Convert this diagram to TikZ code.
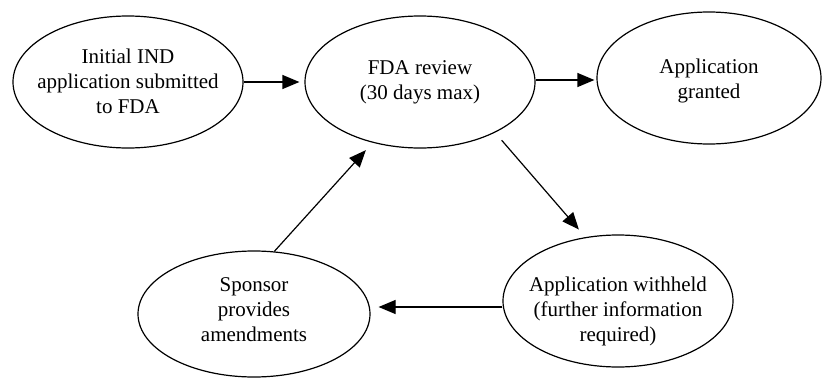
\documentclass[tikz,border=0pt]{standalone}
\usepackage{fontspec}
\setmainfont{Liberation Serif}
\usetikzlibrary{shapes.geometric,arrows.meta}
\begin{document}
\begin{tikzpicture}[x=1pt,y=1pt,
  oval/.style={draw=black,ellipse,line width=1.2pt,inner sep=0pt},
  txt/.style={align=center,inner sep=0pt,font=\fontsize{21}{25}\selectfont},
  conn/.style={line width=1.2pt,-{Triangle[length=17pt,width=14pt]}}]
\useasboundingbox (0,0) rectangle (823,-378);
\node[oval,minimum width=230pt,minimum height=132pt] (n1) at (128,-82) {};
\node[oval,minimum width=230pt,minimum height=132pt] (n2) at (420,-82) {};
\node[oval,minimum width=224pt,minimum height=132pt] (n3) at (709,-78) {};
\node[oval,minimum width=230pt,minimum height=132pt] (n4) at (618,-301) {};
\node[oval,minimum width=232pt,minimum height=126pt] (n5) at (254,-314) {};
\node[txt] (t1) at (128,-81) {Initial IND\\application submitted\\to FDA};
\node[txt] (t2) at (420,-82) {FDA review\\(30 days max)};
\node[txt] (t3) at (709,-81) {Application\\granted};
\node[txt] (t4) at (618,-311) {Application withheld\\(further information\\required)};
\node[txt] (t5) at (254,-310) {Sponsor\\provides\\amendments};
\draw[conn,shorten >=5pt] (n1.east) -- (n2.west);
\draw[conn,shorten >=2pt] ([yshift=2pt]n2.east) -- ([yshift=2pt]n2.east -| n3.west);
\draw[conn,shorten <=10pt,shorten >=10pt] (n2.-34) -- (n4.117);
\draw[conn,shorten >=8pt] ([yshift=-6pt]n4.west) -- ([yshift=-6pt]n4.west -| n5.east);
\draw[conn,shorten >=10pt] (n5.72) -- (n2.-128);
\end{tikzpicture}
\end{document}
